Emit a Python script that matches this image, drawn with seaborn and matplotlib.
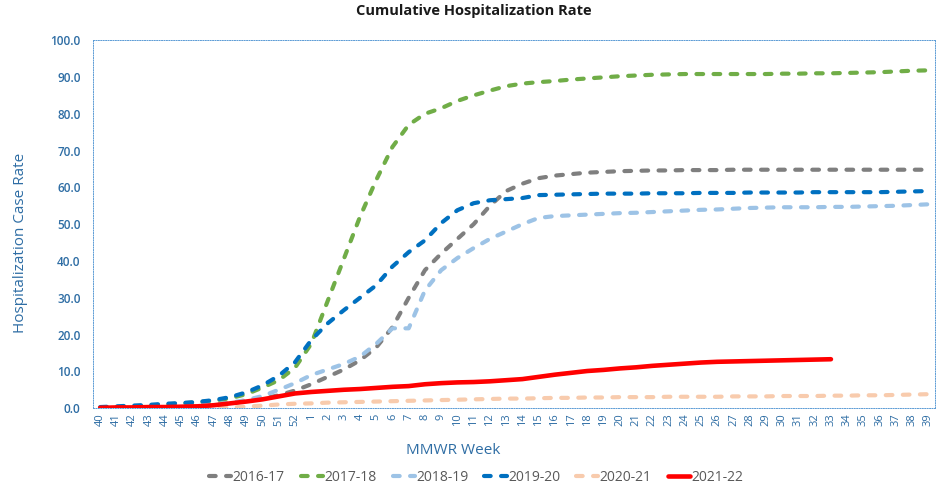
import matplotlib
matplotlib.use("Agg")
import numpy as np
import pandas as pd
import seaborn as sns
from matplotlib import pyplot as plt

# MMWR weeks 40..52 then 1..39
weeks = [str(w) for w in list(range(40, 53)) + list(range(1, 40))]

seasons = ["2016-17", "2017-18", "2018-19", "2019-20", "2020-21", "2021-22"]

rate_2016_17 = [0.1, 0.2, 0.3, 0.4, 0.5, 0.6, 0.8, 1.0, 1.4, 1.9, 2.6, 3.5, 4.8,
                6.5, 8.5, 10.5, 13.0, 16.5, 22.0, 30.0, 37.5, 42.0, 46.0, 50.0, 55.0,
                59.0, 61.0, 62.5, 63.2, 63.6, 64.0, 64.2, 64.4, 64.5, 64.6, 64.6, 64.7,
                64.7, 64.7, 64.8, 64.8, 64.8, 64.8, 64.8, 64.8, 64.8, 64.8, 64.8, 64.8,
                64.8, 64.8, 64.8]
rate_2017_18 = [0.1, 0.3, 0.5, 0.7, 1.0, 1.3, 1.6, 2.0, 2.7, 3.8, 5.6, 7.6, 11.0,
                17.5, 29.0, 40.5, 52.0, 62.0, 71.0, 77.0, 80.0, 81.5, 83.5, 85.0, 86.3,
                87.5, 88.2, 88.6, 88.9, 89.3, 89.6, 89.9, 90.2, 90.4, 90.6, 90.7, 90.8,
                90.8, 90.8, 90.8, 90.8, 90.8, 90.9, 90.9, 91.0, 91.0, 91.1, 91.2, 91.3,
                91.5, 91.7, 91.8]
rate_2018_19 = [0.1, 0.2, 0.3, 0.4, 0.5, 0.6, 0.8, 1.0, 1.5, 2.2, 3.3, 5.0, 6.8,
                9.0, 10.5, 12.0, 14.0, 17.5, 21.7, 21.7, 32.0, 37.5, 40.8, 43.5, 46.0,
                48.0, 50.0, 51.7, 52.2, 52.4, 52.6, 52.8, 53.0, 53.1, 53.3, 53.5, 53.7,
                53.9, 54.0, 54.2, 54.4, 54.5, 54.6, 54.6, 54.6, 54.7, 54.7, 54.8, 54.9,
                55.0, 55.2, 55.4]
rate_2019_20 = [0.3, 0.5, 0.7, 0.9, 1.2, 1.4, 1.7, 2.2, 3.0, 4.3, 6.2, 8.8, 12.5,
                18.5, 23.0, 26.6, 30.0, 33.4, 38.5, 42.4, 45.6, 50.3, 53.8, 55.7, 56.5,
                56.8, 57.1, 57.9, 58.0, 58.1, 58.2, 58.3, 58.3, 58.3, 58.4, 58.4, 58.4,
                58.5, 58.5, 58.5, 58.6, 58.6, 58.6, 58.6, 58.7, 58.7, 58.7, 58.7, 58.7,
                58.8, 58.9, 59.0]
rate_2020_21 = [0.0, 0.0, 0.0, 0.0, 0.0, 0.1, 0.1, 0.1, 0.2, 0.4, 0.7, 1.0, 1.2,
                1.3, 1.5, 1.6, 1.7, 1.8, 1.9, 2.0, 2.1, 2.2, 2.3, 2.4, 2.5,
                2.6, 2.6, 2.7, 2.8, 2.8, 2.9, 2.9, 3.0, 3.0, 3.0, 3.1, 3.1,
                3.1, 3.1, 3.2, 3.2, 3.2, 3.3, 3.3, 3.3, 3.4, 3.4, 3.5, 3.5,
                3.6, 3.7, 3.8]
rate_2021_22 = [0.1, 0.2, 0.2, 0.3, 0.3, 0.4, 0.5, 0.8, 1.3, 1.8, 2.4, 3.2, 4.0,
                4.4, 4.7, 5.0, 5.2, 5.5, 5.8, 6.0, 6.5, 6.8, 7.0, 7.1, 7.3,
                7.6, 7.9, 8.5, 9.1, 9.6, 10.1, 10.4, 10.8, 11.1, 11.5, 11.8, 12.1,
                12.4, 12.6, 12.7, 12.8, 12.9, 13.0, 13.1, 13.2, 13.3]

all_rates = [rate_2016_17, rate_2017_18, rate_2018_19, rate_2019_20, rate_2020_21, rate_2021_22]
colors = ["#7F7F7F", "#70AD47", "#9DC3E6", "#0070C0", "#F8CBAD", "#FF0000"]

blue_txt = "#2E6DA4"

sns.set_theme(style="white")
plt.rcParams["font.family"] = ["Open Sans", "DejaVu Sans"]

fig = plt.figure(figsize=(9.41, 4.9), dpi=100)
ax = fig.add_axes([0.099, 0.167, 0.895, 0.751])

for season, rates, col in zip(seasons, all_rates, colors):
    df = pd.DataFrame({"idx": np.arange(len(rates)), "rate": rates})
    if season == "2021-22":
        sns.lineplot(data=df, x="idx", y="rate", ax=ax, color=col, linewidth=3.3,
                     label=season, solid_capstyle="round")
    else:
        sns.lineplot(data=df, x="idx", y="rate", ax=ax, color=col, linewidth=3.0,
                     label=season, linestyle=(0, (1.6, 2.5)), dash_capstyle="round")

ax.set_xlim(-0.43, len(weeks) - 1 + 0.43)
ax.set_ylim(0, 100)
ax.set_xticks(np.arange(len(weeks)))
ax.set_xticklabels(weeks, rotation=90, fontsize=8, color=blue_txt)
ax.set_yticks(np.arange(0, 101, 10))
ax.set_yticklabels(["%.1f" % v for v in np.arange(0, 101, 10)], fontsize=8.5,
                   color=blue_txt, fontweight="semibold")
ax.tick_params(axis="both", length=0)
ax.tick_params(axis="y", pad=9)
ax.tick_params(axis="x", pad=4)

# thin dotted frame
for sp in ax.spines.values():
    sp.set_visible(True)
    sp.set_color("#5B9BD5")
    sp.set_linestyle((0, (1, 1.5)))
    sp.set_linewidth(0.7)

ax.set_xlabel("MMWR Week", fontsize=11, color=blue_txt)
ax.xaxis.set_label_coords(0.428, -0.095)
ax.set_ylabel("Hospitalization Case Rate", fontsize=11, color=blue_txt)
ax.yaxis.set_label_coords(-0.077, 0.45)

fig.text(0.504, 0.978, "Cumulative Hospitalization Rate", ha="center", va="center",
         fontsize=10.5, fontweight="bold", color="#1a1a1a")

ax.legend_.remove()
handles, labels = ax.get_legend_handles_labels()
fig.legend(handles, labels, loc="center", bbox_to_anchor=(0.506, 0.025), ncol=6,
           frameon=False, fontsize=10, handlelength=1.6, columnspacing=1.15,
           handletextpad=0.1, labelcolor="#595959")

fig.savefig("out.png", dpi=100)
